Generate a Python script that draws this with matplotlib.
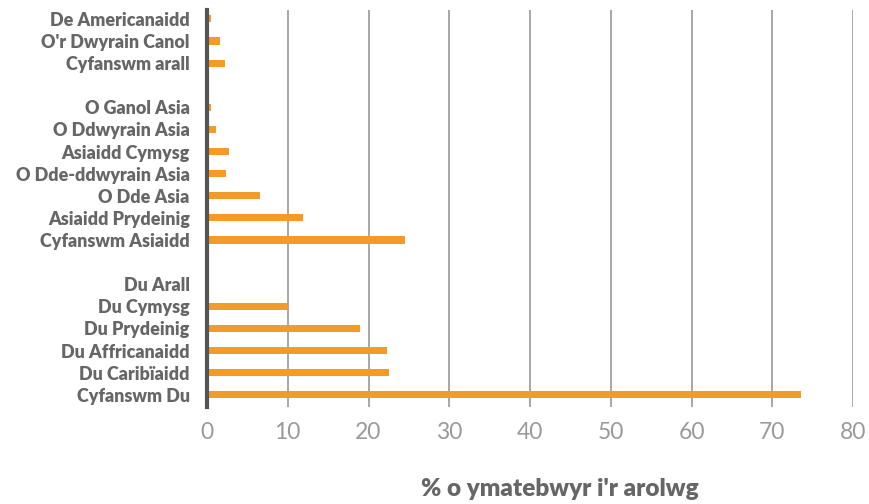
import matplotlib
matplotlib.use("Agg")
import matplotlib.pyplot as plt

categories = [
    "Cyfanswm Du", "Du Caribïaidd", "Du Affricanaidd", "Du Prydeinig", "Du Cymysg", "Du Arall",
    "",
    "Cyfanswm Asiaidd", "Asiaidd Prydeinig", "O Dde Asia", "O Dde-ddwyrain Asia",
    "Asiaidd Cymysg", "O Ddwyrain Asia", "O Ganol Asia",
    "",
    "Cyfanswm arall", "O'r Dwyrain Canol", "De Americanaidd",
]
values = [
    73.5, 22.5, 22.3, 19.0, 10.0, 0.3,
    None,
    24.5, 11.9, 6.6, 2.3, 2.7, 1.15, 0.45,
    None,
    2.2, 1.55, 0.45,
]
x_ticks = [0, 10, 20, 30, 40, 50, 60, 70, 80]
x_label = "% o ymatebwyr i'r arolwg"

bar_color = "#F49B27"
label_color = "#666666"

fig = plt.figure(figsize=(8.69, 5.04), dpi=100)
ax = fig.add_axes([207/869, 1 - 407/504, (853-207)/869, (407-10)/504])

pos = [i for i, v in enumerate(values) if v is not None]
vals = [v for v in values if v is not None]
ax.barh(pos, vals, height=0.32, color=bar_color, zorder=3)

ax.set_xlim(0, 80)
ax.set_ylim(-0.55, len(categories) - 1 + 0.4)
ax.set_xticks(x_ticks)
ax.set_xticklabels([str(t) for t in x_ticks], fontsize=16.5, color="#9a9a9a",
                   family="Lato", fontweight="normal")
ax.set_yticks(range(len(categories)))
ax.set_yticklabels(categories, fontsize=12.9, color=label_color,
                   family="Lato", fontweight="heavy")
ax.tick_params(axis="x", length=0, pad=11)
ax.tick_params(axis="y", length=0, pad=12.5)

for t in x_ticks[1:]:
    ax.axvline(t, color="#a0a0a0", linewidth=1.3, zorder=1)

for s in ["top", "right", "bottom"]:
    ax.spines[s].set_visible(False)
ax.spines["left"].set_color("#555555")
ax.spines["left"].set_linewidth(3)
ax.spines["left"].set_zorder(4)

fig.text(560/869, 1 - 489/504, x_label, ha="center", va="center",
         fontsize=17.5, color=label_color, family="Lato", fontweight="heavy")

fig.savefig("out.png", dpi=100)
